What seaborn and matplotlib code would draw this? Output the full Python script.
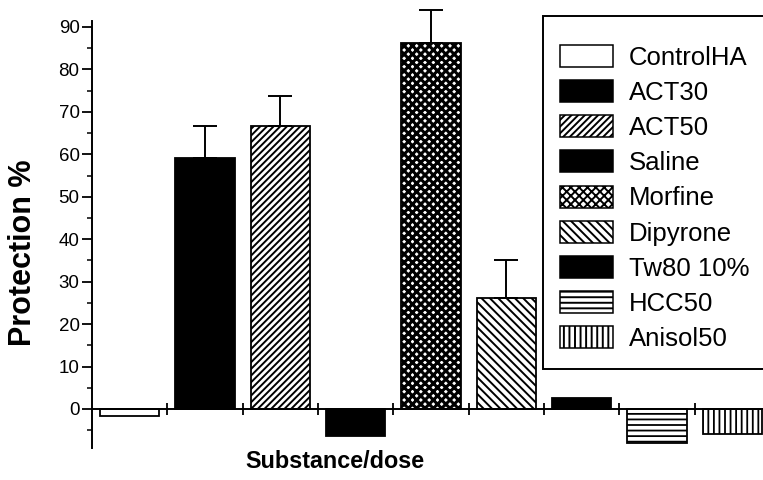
import matplotlib
matplotlib.use("Agg")
import matplotlib.pyplot as plt
from matplotlib.patches import Patch
from matplotlib.ticker import MultipleLocator
import seaborn as sns
import pandas as pd
import numpy as np

# Datos
sustancias = ["ControlHA", "ACT30", "ACT50", "Saline", "Morfine",
              "Dipyrone", "Tw80 10%", "HCC50", "Anisol50"]
proteccion = [-1.6, 59.2, 66.6, -6.4, 86.1, 26.2, 2.5, -8.0, -6.0]
error_sup = [0, 7.5, 7.1, 0, 7.9, 8.9, 0, 0, 0]

# Estilo de cada barra
rellenos = ["white", "black", "white", "black", "white",
            "white", "black", "white", "white"]
tramas = ["", "", "/////", "", "xxxx", "\\\\\\\\", "", "---", "|||"]
grosor_trama = [1.0, 1.0, 1.4, 1.0, 2.2, 1.4, 1.0, 1.3, 1.3]

sns.set_style("ticks", {"axes.edgecolor": "black", "text.color": "black",
                        "axes.labelcolor": "black", "xtick.color": "black",
                        "ytick.color": "black"})
plt.rcParams["font.family"] = ["Liberation Sans", "DejaVu Sans"]
plt.rcParams["hatch.linewidth"] = 1.4

df = pd.DataFrame({"sustancia": sustancias, "proteccion": proteccion})

fig = plt.figure(figsize=(7.63, 4.80), dpi=100)
ax = fig.add_axes([92 / 763, 32 / 480, 678 / 763, 427 / 480])

sns.barplot(data=df, x="sustancia", y="proteccion", hue="sustancia",
            palette=dict(zip(sustancias, rellenos)), saturation=1,
            width=0.79, edgecolor="black", linewidth=1.3,
            legend=False, ax=ax)

# Barras ordenadas por posicion
barras = sorted(ax.patches, key=lambda p: p.get_x())
for barra, trama, g in zip(barras, tramas, grosor_trama):
    barra.set_hatch(trama)
    if hasattr(barra, "set_hatch_linewidth"):
        barra.set_hatch_linewidth(g)

# Barras de error solo hacia arriba
for barra, v, e in zip(barras, proteccion, error_sup):
    if e > 0:
        xc = barra.get_x() + barra.get_width() / 2
        eb = ax.errorbar(xc, v, yerr=[[0], [e]], fmt="none", ecolor="black",
                         elinewidth=1.4, capsize=8.5, capthick=1.4)
        for art in eb.get_children():
            art.set_clip_on(False)

ax.set_xlim(-0.5, len(sustancias) - 0.5)
ax.set_ylim(-9.2, 91.4)

ax.spines["top"].set_visible(False)
ax.spines["right"].set_visible(False)
ax.spines["bottom"].set_position(("data", 0))
ax.spines["left"].set_linewidth(1.4)
ax.spines["bottom"].set_linewidth(1.4)

ax.set_xticks(np.arange(len(sustancias) - 1) + 0.5)
ax.set_xticklabels([])
ax.tick_params(axis="x", direction="inout", length=8, width=1.3)

ax.set_yticks(range(0, 91, 10))
ax.yaxis.set_minor_locator(MultipleLocator(5))
ax.tick_params(axis="y", which="major", length=7, width=1.3, labelsize=13.5, pad=2)
ax.tick_params(axis="y", which="minor", length=3.5, width=1.1)

ax.set_xlabel("")
ax.set_ylabel("")

fig.text(23 / 763, 1 - 253 / 480, "Protection %", rotation=90,
         ha="center", va="center", fontsize=22, fontweight="bold")
fig.text(335 / 763, 1 - 462 / 480, "Substance/dose",
         ha="center", va="center", fontsize=16.8, fontweight="bold")

# Leyenda con las mismas tramas
handles = []
for c, h, g in zip(rellenos, tramas, grosor_trama):
    p = Patch(facecolor=c, edgecolor="black", hatch=h, linewidth=1.1)
    if hasattr(p, "set_hatch_linewidth"):
        p.set_hatch_linewidth(g)
    handles.append(p)
leg = fig.legend(handles, sustancias, loc="upper left",
                 bbox_to_anchor=(543 / 763, 1 - 16 / 480), borderaxespad=0,
                 fontsize=18.5, frameon=True, fancybox=False, edgecolor="black",
                 framealpha=1, handlelength=2.05, handleheight=0.95,
                 handletextpad=0.62, labelspacing=0.40, borderpad=0.68,
                 title=" ", title_fontsize=1)
leg.get_frame().set_linewidth(1.4)

fig.savefig("out.png", dpi=100)
